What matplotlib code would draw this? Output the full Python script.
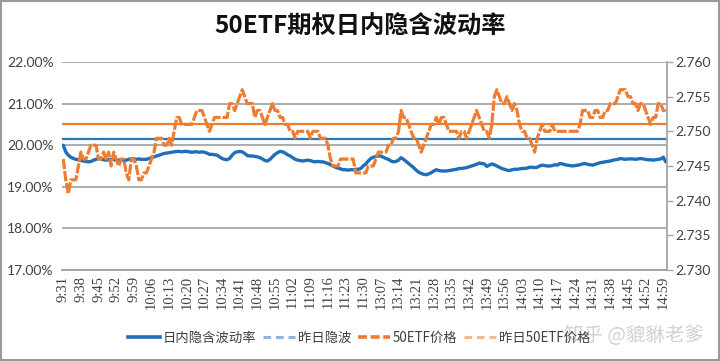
import matplotlib
matplotlib.use("Agg")
import matplotlib.pyplot as plt
from matplotlib.lines import Line2D
from matplotlib.patches import Rectangle
from matplotlib.ticker import FuncFormatter

# minute categories: morning 9:31-11:30, afternoon 13:01-15:00
times = [f"{(570 + m) // 60}:{(570 + m) % 60:02d}" for m in range(1, 121)] + \
        [f"{(780 + m) // 60}:{(780 + m) % 60:02d}" for m in range(1, 121)]

iv = [20.00, 19.84, 19.76, 19.71, 19.68, 19.66, 19.65, 19.63, 19.62, 19.61,
      19.60, 19.61, 19.64, 19.66, 19.68, 19.67, 19.65, 19.64, 19.65, 19.66,
      19.65, 19.64, 19.64, 19.65, 19.64, 19.64, 19.66, 19.67, 19.67, 19.66,
      19.67, 19.66, 19.66, 19.66, 19.68, 19.70, 19.72, 19.74, 19.76, 19.78,
      19.80, 19.81, 19.82, 19.83, 19.84, 19.85, 19.85, 19.84, 19.85, 19.85,
      19.84, 19.83, 19.84, 19.84, 19.83, 19.84, 19.83, 19.81, 19.78, 19.78,
      19.77, 19.76, 19.72, 19.68, 19.66, 19.65, 19.68, 19.76, 19.82, 19.84,
      19.85, 19.84, 19.80, 19.75, 19.74, 19.74, 19.73, 19.72, 19.70, 19.67,
      19.63, 19.62, 19.66, 19.72, 19.78, 19.82, 19.85, 19.84, 19.81, 19.77,
      19.74, 19.70, 19.66, 19.64, 19.63, 19.62, 19.63, 19.64, 19.63, 19.61,
      19.60, 19.61, 19.60, 19.60, 19.58, 19.56, 19.53, 19.50, 19.47, 19.45,
      19.43, 19.41, 19.41, 19.40, 19.41, 19.41, 19.42, 19.42, 19.44, 19.50,
      19.55, 19.62, 19.68, 19.71, 19.73, 19.74, 19.74, 19.71, 19.68, 19.66,
      19.62, 19.60, 19.61, 19.64, 19.70, 19.66, 19.61, 19.56, 19.51, 19.46,
      19.40, 19.35, 19.32, 19.30, 19.29, 19.31, 19.34, 19.38, 19.41, 19.39,
      19.38, 19.38, 19.38, 19.39, 19.40, 19.41, 19.42, 19.44, 19.44, 19.45,
      19.46, 19.48, 19.50, 19.52, 19.54, 19.57, 19.56, 19.55, 19.49, 19.52,
      19.55, 19.53, 19.50, 19.47, 19.44, 19.42, 19.40, 19.39, 19.41, 19.42,
      19.42, 19.43, 19.44, 19.44, 19.45, 19.47, 19.47, 19.46, 19.47, 19.50,
      19.52, 19.51, 19.50, 19.50, 19.51, 19.53, 19.52, 19.56, 19.55, 19.53,
      19.52, 19.51, 19.50, 19.51, 19.52, 19.53, 19.55, 19.56, 19.54, 19.53,
      19.52, 19.54, 19.56, 19.58, 19.59, 19.60, 19.61, 19.62, 19.64, 19.65,
      19.66, 19.68, 19.67, 19.66, 19.67, 19.67, 19.67, 19.66, 19.67, 19.68,
      19.67, 19.66, 19.65, 19.65, 19.64, 19.65, 19.66, 19.67, 19.71, 19.60]

price = [2.746, 2.743, 2.741, 2.743, 2.743, 2.743, 2.745, 2.747, 2.746, 2.746,
         2.747, 2.748, 2.748, 2.748, 2.746, 2.746, 2.747, 2.746, 2.747, 2.745,
         2.747, 2.746, 2.745, 2.746, 2.746, 2.744, 2.743, 2.746, 2.746, 2.745,
         2.743, 2.743, 2.744, 2.744, 2.745, 2.746, 2.747, 2.749, 2.749, 2.749,
         2.748, 2.748, 2.749, 2.748, 2.750, 2.752, 2.752, 2.751, 2.751, 2.751,
         2.751, 2.751, 2.752, 2.753, 2.753, 2.753, 2.752, 2.751, 2.750, 2.751,
         2.752, 2.752, 2.752, 2.752, 2.752, 2.752, 2.754, 2.754, 2.753, 2.754,
         2.755, 2.756, 2.755, 2.754, 2.754, 2.754, 2.752, 2.753, 2.753, 2.752,
         2.751, 2.752, 2.753, 2.754, 2.753, 2.753, 2.752, 2.752, 2.751, 2.751,
         2.750, 2.750, 2.749, 2.750, 2.750, 2.750, 2.750, 2.750, 2.749, 2.750,
         2.750, 2.750, 2.749, 2.749, 2.749, 2.748, 2.746, 2.745, 2.745, 2.745,
         2.746, 2.746, 2.746, 2.746, 2.746, 2.746, 2.744, 2.744, 2.744, 2.744,
         2.744, 2.745, 2.745, 2.745, 2.746, 2.747, 2.747, 2.747, 2.747, 2.748,
         2.748, 2.749, 2.749, 2.750, 2.753, 2.752, 2.752, 2.751, 2.750, 2.749,
         2.749, 2.748, 2.747, 2.748, 2.749, 2.750, 2.751, 2.751, 2.752, 2.751,
         2.752, 2.752, 2.751, 2.750, 2.750, 2.750, 2.750, 2.749, 2.750, 2.750,
         2.749, 2.750, 2.751, 2.752, 2.753, 2.752, 2.751, 2.750, 2.750, 2.749,
         2.751, 2.755, 2.756, 2.755, 2.754, 2.754, 2.755, 2.754, 2.753, 2.754,
         2.753, 2.751, 2.750, 2.750, 2.749, 2.749, 2.748, 2.747, 2.749, 2.750,
         2.751, 2.750, 2.750, 2.750, 2.751, 2.750, 2.750, 2.750, 2.750, 2.750,
         2.750, 2.750, 2.750, 2.750, 2.750, 2.751, 2.753, 2.753, 2.753, 2.752,
         2.752, 2.753, 2.753, 2.752, 2.752, 2.753, 2.753, 2.754, 2.754, 2.754,
         2.755, 2.756, 2.756, 2.756, 2.755, 2.755, 2.754, 2.754, 2.753, 2.754,
         2.754, 2.753, 2.752, 2.751, 2.752, 2.752, 2.754, 2.754, 2.753, 2.753]

iv_yesterday = 20.16
price_yesterday = 2.7511

blue = "#1f6eb7"
blue_h = "#2e75b6"
orange = "#ed7d31"
grid_c = "#a6a6a6"
txt_c = "#404040"
cjk = ["Noto Sans CJK SC", "DejaVu Sans"]

fig = plt.figure(figsize=(7.2, 3.61), dpi=100)
ax = fig.add_axes([0.0861, 0.2521, 0.8403, 0.5762])
ax2 = ax.twinx()

x = list(range(len(times)))
ax.plot(x, iv, color=blue, lw=2.4, solid_capstyle="round", zorder=3)
ax.axhline(iv_yesterday, color=blue_h, lw=1.6, zorder=2)
ax2.plot(x, price, color=orange, lw=2.3, linestyle=(0, (3.2, 0.6)), zorder=3)
ax2.axhline(price_yesterday, color=orange, lw=1.6, zorder=2)

ax.set_xlim(-0.5, len(times) - 0.5)
ax.set_ylim(17, 22)
ax.set_yticks([17, 18, 19, 20, 21, 22])
ax.yaxis.set_major_formatter(FuncFormatter(lambda v, p: f"{v:.2f}%"))
ax2.set_ylim(2.730, 2.760)
ax2.set_yticks([2.730, 2.735, 2.740, 2.745, 2.750, 2.755, 2.760])
ax2.yaxis.set_major_formatter(FuncFormatter(lambda v, p: f"{v:.3f}"))

tick_idx = list(range(0, len(times), 7))
ax.set_xticks(tick_idx)
ax.set_xticklabels([times[i] for i in tick_idx], rotation=90,
                   family="Liberation Serif", fontsize=10.5, color=txt_c)

ax.grid(axis="y", color=grid_c, lw=1.3)
ax.set_axisbelow(True)
for a in (ax, ax2):
    for s in ("top", "left"):
        a.spines[s].set_visible(False)
    a.spines["bottom"].set_color(grid_c)
    a.spines["bottom"].set_linewidth(1.3)
ax.spines["right"].set_visible(False)
ax2.spines["right"].set_color(grid_c)
ax2.spines["right"].set_linewidth(1.3)

ax.tick_params(axis="x", length=0, pad=4)
ax.tick_params(axis="y", length=0, pad=6, labelsize=10, labelcolor=txt_c)
ax2.tick_params(axis="y", length=4, width=1, color=grid_c, pad=2,
                labelsize=10, labelcolor=txt_c)
for lab in ax.get_yticklabels() + ax2.get_yticklabels():
    lab.set_family("Lato")

fig.text(0.5, 0.925, "50ETF期权日内隐含波动率", ha="center", va="center",
         fontsize=17.5, fontweight="bold", family=cjk, color="#111111")

handles = [
    Line2D([], [], color=blue, lw=2.6),
    Line2D([], [], color="#8fb4de", lw=2.2, linestyle=(0, (2.5, 1.6))),
    Line2D([], [], color=orange, lw=2.6, linestyle=(0, (2.5, 1.0))),
    Line2D([], [], color="#f5b98e", lw=2.2, linestyle=(0, (2.5, 1.6))),
]
labels = ["日内隐含波动率", "昨日隐波", "50ETF价格", "昨日50ETF价格"]
fig.legend(handles, labels, loc="center", bbox_to_anchor=(0.499, 0.064), ncol=4,
           frameon=False, handlelength=2.4, handletextpad=0.2,
           columnspacing=0.5, prop={"family": cjk, "size": 9.6},
           labelcolor=txt_c)

fig.text(0.88, 0.07, "知乎 @貔貅老爹", ha="center", va="center", fontsize=14,
         family=cjk, color="#c9c9c9", alpha=0.85)

fig.patches.append(Rectangle((0.001, 0.002), 0.997, 0.995, transform=fig.transFigure,
                             fill=False, edgecolor="#9a9a9a", lw=1.5))

fig.savefig("out.png", dpi=100)
